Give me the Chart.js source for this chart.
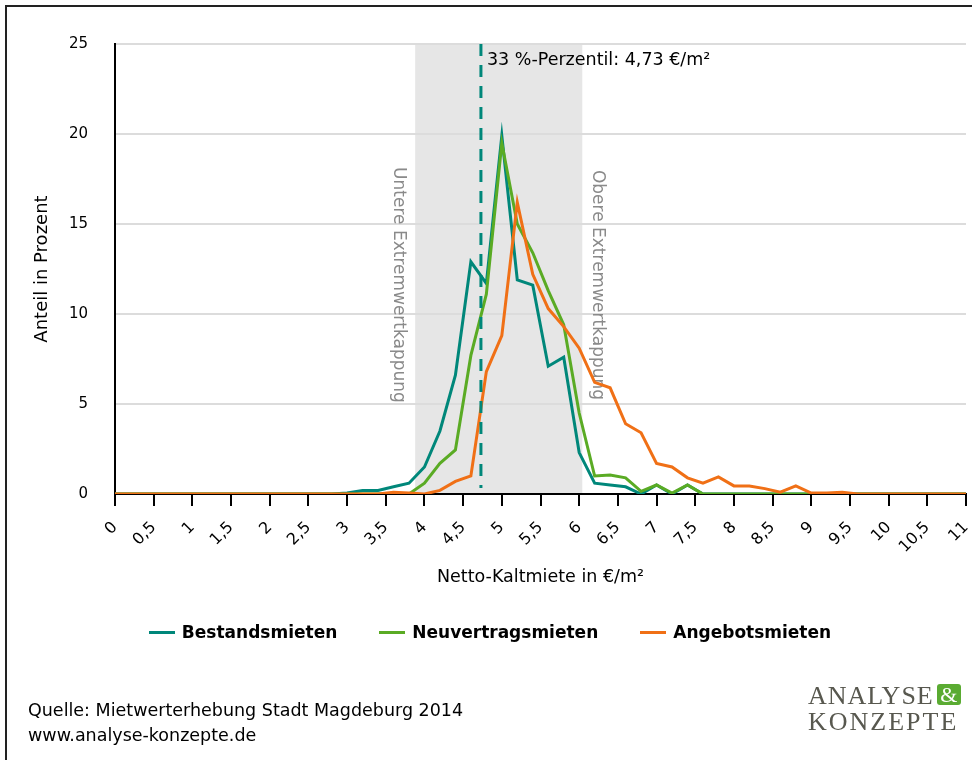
<!DOCTYPE html>
<html>
<head>
<meta charset="utf-8">
<script src="https://cdn.jsdelivr.net/npm/chart.js@4.4.1/dist/chart.umd.min.js"></script>
<style>
body { margin: 0; background: #fff; }
#wrap { position: relative; width: 972px; height: 760px; overflow: hidden; font-family: "DejaVu Sans", sans-serif; background: #fff; }
#frame { position: absolute; left: 5px; top: 5px; width: 1000px; height: 800px; border-top: 2px solid #222; border-left: 2px solid #222; }
canvas { position: absolute; left: 0; top: 0; }
#legend { position: absolute; top: 621px; left: 8px; width: 964px; display: flex; justify-content: center; gap: 42px; font-weight: bold; font-size: 17px; line-height: 22px; color: #000; }
#legend span.sw { display: inline-block; width: 26px; height: 3px; margin-right: 7px; vertical-align: middle; position: relative; top: -1px; }
.quelle { position: absolute; left: 28px; font-size: 17.5px; line-height: 22px; color: #000; }
#logo { position: absolute; left: 808px; top: 683px; font-family: "Liberation Serif", serif; font-size: 26px; line-height: 26px; color: #58584f; letter-spacing: 1px; }
#logo .k { letter-spacing: 2px; }
#logo .amp { display: inline-block; background: #5aab32; color: #fff; border-radius: 3px; width: 24px; height: 21px; line-height: 22px; text-align: center; font-size: 22px; letter-spacing: 0; vertical-align: 2px; margin-left: 3px; }
</style>
</head>
<body>
<div id="wrap">
  <canvas id="chart" width="972" height="760"></canvas>
  <div id="frame"></div>
  <div id="legend"></div>
  <div class="quelle" style="top:699px">Quelle: Mietwerterhebung Stadt Magdeburg 2014</div>
  <div class="quelle" style="top:724px">www.analyse-konzepte.de</div>
  <div id="logo">ANALYSE<span class="amp">&amp;</span><br><span class="k">KONZEPTE</span></div>
</div>
<script>
// Mietpreise in 0,2-Schritten (€/m²)
const xWerte = [0, 0.2, 0.4, 0.6, 0.8, 1, 1.2, 1.4, 1.6, 1.8,
  2, 2.2, 2.4, 2.6, 2.8, 3, 3.2, 3.4, 3.6, 3.8,
  4, 4.2, 4.4, 4.6, 4.8, 5, 5.2, 5.4, 5.6, 5.8,
  6, 6.2, 6.4, 6.6, 6.8, 7, 7.2, 7.4, 7.6, 7.8,
  8, 8.2, 8.4, 8.6, 8.8, 9, 9.2, 9.4, 9.6, 9.8,
  10, 10.2, 10.4, 10.6, 10.8, 11];

// Anteil in Prozent
const bestandsmieten = [0, 0, 0, 0, 0, 0, 0, 0, 0, 0,
  0, 0, 0, 0, 0, 0.05, 0.2, 0.2, 0.4, 0.6,
  1.5, 3.5, 6.6, 12.9, 11.7, 19.9, 11.9, 11.6, 7.1, 7.6,
  2.3, 0.6, 0.5, 0.4, 0, 0.5, 0, 0.5, 0, 0,
  0, 0, 0, 0, 0, 0, 0, 0, 0, 0,
  0, 0, 0, 0, 0, 0];

const neuvertragsmieten = [0, 0, 0, 0, 0, 0, 0, 0, 0, 0,
  0, 0, 0, 0, 0, 0, 0, 0, 0, 0,
  0.6, 1.7, 2.45, 7.7, 11.1, 19.5, 15.0, 13.4, 11.3, 9.4,
  4.5, 1.0, 1.05, 0.9, 0.15, 0.5, 0.05, 0.5, 0, 0,
  0, 0, 0, 0, 0, 0, 0, 0, 0, 0,
  0, 0, 0, 0, 0, 0];

const angebotsmieten = [0, 0, 0, 0, 0, 0, 0, 0, 0, 0,
  0, 0, 0, 0, 0, 0, 0, 0, 0.1, 0.05,
  0, 0.2, 0.7, 1.0, 6.8, 8.8, 16.2, 12.2, 10.3, 9.3,
  8.1, 6.2, 5.9, 3.9, 3.4, 1.7, 1.5, 0.9, 0.6, 0.95,
  0.45, 0.45, 0.3, 0.1, 0.45, 0.05, 0.05, 0.1, 0, 0,
  0, 0, 0, 0, 0, 0];

const serien = ['Bestandsmieten', 'Neuvertragsmieten', 'Angebotsmieten'];
const farben = ['#00877a', '#5aab24', '#f07016'];

// Extremwertkappung und Perzentil
const kappungUnten = 3.88;
const kappungOben = 6.04;
const perzentil = 4.73;

Chart.defaults.font.family = '"DejaVu Sans", sans-serif';
Chart.defaults.color = '#000';

function punkte(werte) {
  return xWerte.map(function(x, i) { return {x: x, y: werte[i]}; });
}

const annotationen = {
  id: 'annotationen',
  beforeDraw(chart) {
    const {ctx, chartArea: a, scales: {x}} = chart;
    const x1 = x.getPixelForValue(kappungUnten);
    const x2 = x.getPixelForValue(kappungOben);
    ctx.save();
    ctx.fillStyle = '#e6e6e6';
    ctx.fillRect(x1, a.top, x2 - x1, a.bottom - a.top);
    ctx.restore();
  },
  beforeDatasetsDraw(chart) {
    const {ctx, chartArea: a, scales: {x}} = chart;
    const x1 = x.getPixelForValue(kappungUnten);
    const x2 = x.getPixelForValue(kappungOben);
    const mitte = (a.top + a.bottom) / 2 + 16;
    ctx.save();
    ctx.fillStyle = '#8a8a8a';
    ctx.font = '17px "DejaVu Sans", sans-serif';
    ctx.textAlign = 'center';
    ctx.textBaseline = 'middle';
    ctx.translate(x1 - 17, mitte);
    ctx.rotate(Math.PI / 2);
    ctx.fillText('Untere Extremwertkappung', 0, 0);
    ctx.restore();
    ctx.save();
    ctx.fillStyle = '#8a8a8a';
    ctx.font = '17px "DejaVu Sans", sans-serif';
    ctx.textAlign = 'center';
    ctx.textBaseline = 'middle';
    ctx.translate(x2 + 15, mitte);
    ctx.rotate(Math.PI / 2);
    ctx.fillText('Obere Extremwertkappung', 0, 0);
    ctx.restore();
  },
  afterDatasetsDraw(chart) {
    const {ctx, chartArea: a, scales: {x}} = chart;
    const px = x.getPixelForValue(perzentil);
    ctx.save();
    ctx.strokeStyle = farben[0];
    ctx.lineWidth = 3;
    ctx.setLineDash([12, 9]);
    ctx.beginPath();
    ctx.moveTo(px, a.top);
    ctx.lineTo(px, a.bottom - 6);
    ctx.stroke();
    ctx.setLineDash([]);
    ctx.fillStyle = '#000';
    ctx.font = '17.5px "DejaVu Sans", sans-serif';
    ctx.textBaseline = 'middle';
    ctx.fillText('33 %-Perzentil: 4,73 €/m²', px + 6, a.top + 16);
    ctx.restore();
  }
};

const reihen = [bestandsmieten, neuvertragsmieten, angebotsmieten];

const chart = new Chart(document.getElementById('chart').getContext('2d'), {
  type: 'line',
  data: {
    datasets: serien.map(function(name, i) {
      return {
        label: name,
        data: punkte(reihen[i]),
        borderColor: farben[i],
        backgroundColor: farben[i],
        borderWidth: 3,
        pointRadius: 0,
        fill: false,
        tension: 0,
        order: 3 - i
      };
    })
  },
  options: {
    responsive: false,
    devicePixelRatio: 1,
    animation: false,
    layout: { padding: { top: 44, right: 6, left: 0, bottom: 146 } },
    plugins: {
      legend: { display: false },
      tooltip: { enabled: false }
    },
    scales: {
      x: {
        type: 'linear',
        min: 0,
        max: 11,
        ticks: {
          stepSize: 0.5,
          autoSkip: false,
          minRotation: 45,
          maxRotation: 45,
          padding: 12,
          font: { size: 16 },
          callback: function(value) { return String(value).replace('.', ','); }
        },
        grid: { drawOnChartArea: false, drawTicks: true, tickLength: 12, color: '#000', lineWidth: 2 },
        border: { color: '#000', width: 2 },
        title: { display: true, text: 'Netto-Kaltmiete in €/m²', font: { size: 17.5 }, padding: 26 },
        afterFit: function(scale) {
          scale.height = 120;
          scale.paddingLeft = 0;
          scale.paddingRight = 0;
        }
      },
      y: {
        min: 0,
        max: 25,
        ticks: { stepSize: 5, padding: 27, font: { size: 15 } },
        grid: { color: '#dcdcdc', lineWidth: 2, drawTicks: false },
        border: { color: '#000', width: 2 },
        title: { display: true, text: 'Anteil in Prozent', font: { size: 18 }, padding: 32 },
        afterFit: function(scale) { scale.width = 115; }
      }
    }
  },
  plugins: [annotationen]
});

// Legende
const legende = document.getElementById('legend');
serien.forEach(function(name, i) {
  const item = document.createElement('div');
  item.innerHTML = '<span class="sw" style="background:' + farben[i] + '"></span>' + name;
  legende.appendChild(item);
});
</script>
</body>
</html>
